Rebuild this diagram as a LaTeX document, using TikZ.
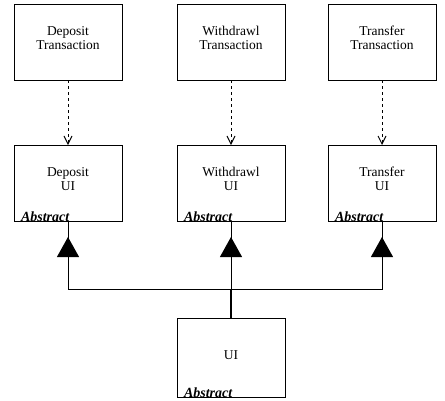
\documentclass[tikz,border=0pt]{standalone}
\usepackage{fontspec}
\setmainfont{Liberation Serif}
\usetikzlibrary{arrows.meta}
\begin{document}
\begin{tikzpicture}[x=1pt,y=-1pt,inner sep=0pt,outer sep=0pt,line width=0.9pt,
uiblock/.style={draw,rectangle,align=center,minimum width=108pt,minimum height=76pt,text depth=8pt,font=\fontsize{13.5}{14}\selectfont},
abstag/.style={anchor=base west,font=\fontsize{14}{16}\selectfont\bfseries\itshape},
uses/.style={dashed,-{Straight Barb[length=8pt,width=8pt]}},
inherit/.style={-{Triangle[length=20pt,width=22pt]},shorten >=16pt}]
\useasboundingbox (0,0) rectangle (445,400);
\draw (68,42) node[uiblock] (depT) {Deposit\\Transaction};
\draw (231,42) node[uiblock] (wdrT) {Withdrawl\\Transaction};
\draw (382,42) node[uiblock] (trfT) {Transfer\\Transaction};
\draw (68,183) node[uiblock] (depUI) {Deposit\\UI};
\draw (231,183) node[uiblock] (wdrUI) {Withdrawl\\UI};
\draw (382,183) node[uiblock] (trfUI) {Transfer\\UI};
\draw (231,357.5) node[uiblock,minimum height=79pt,text depth=4pt] (ui) {UI};
\foreach \b in {depUI,wdrUI,trfUI,ui}
  \node[abstag] at ([xshift=7pt]\b.south west) {Abstract};
\draw[uses] (depT) -- (depUI);
\draw[uses] (wdrT) -- (wdrUI);
\draw[uses] (trfT) -- (trfUI);
\coordinate (hubL) at (68,289);
\coordinate (hubM) at (231,289);
\coordinate (hubR) at (382,289);
\draw (depUI.south) -- (hubL) -- (hubR) -- (trfUI.south);
\draw (hubM) -- (wdrUI.south);
\draw[line width=1.8pt] (ui.north) -- (hubM);
\draw[inherit] (hubL) -- (depUI.south);
\draw[inherit] (hubM) -- (wdrUI.south);
\draw[inherit] (hubR) -- (trfUI.south);
\end{tikzpicture}
\end{document}
